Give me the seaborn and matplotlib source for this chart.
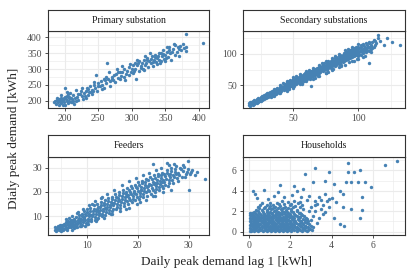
import matplotlib
matplotlib.use("Agg")
import matplotlib.pyplot as plt
import pandas as pd
import seaborn as sns

# panel names
panels = ["Primary substation", "Secondary substations", "Feeders", "Households"]

# points: (lag 1, demand)
primary_pts = [
    (186,198),(188,202),(190,195),(191,205),(193,200),(194,192),(195,208),(196,199),(198,203),(199,196),
    (200,188),(200,212),(201,240),(202,205),(203,198),(204,215),(205,193),(206,207),(207,200),(208,225),
    (209,210),(210,196),(211,204),(212,218),(213,200),(215,208),(216,235),(218,212),(220,202),(222,220),
    (224,230),(225,215),(227,205),(229,225),(231,232),(233,240),(234,218),(236,228),(238,245),(240,235),
    (241,222),(243,250),(245,240),(246,280),(248,232),(250,255),(252,245),(254,262),(256,250),(258,240),
    (260,265),(262,255),(263,318),(265,270),(267,262),(268,248),(270,275),(272,265),(274,280),(275,260),
    (277,285),(279,272),(280,292),(282,268),(284,278),(286,290),(288,275),(289,300),(291,285),(293,295),
    (295,280),(296,305),(298,290),(300,300),(301,312),(302,286),(304,320),(305,300),(306,270),(308,312),
    (310,295),(311,325),(313,308),(315,318),(316,300),(318,330),(320,312),(321,320),(323,335),(324,305),
    (326,325),(328,318),(330,340),(331,310),(333,328),(335,345),(336,322),(338,335),(340,330),(341,350),
    (343,325),(345,340),(346,360),(348,332),(350,345),(352,355),(354,338),(355,370),(357,350),(358,330),
    (360,355),(362,362),(364,345),(365,375),(367,355),(369,368),(370,340),(372,372),(374,360),(376,378),
    (378,365),(380,358),(381,370),(380,409),(406,383),(195,218),(197,185),(205,220),(214,190),(230,215),
    (244,260),(258,270),(266,290),(278,300),(290,265),(297,315),(307,330),(318,298),(327,350),(337,315),
    (344,352),(353,368),(363,380),(371,362),(232,210),(242,230),(255,238),(285,310),(303,293),(319,340),
    (334,338),(349,325),(184,195),(187,190),(189,210),(192,188),(203,228),(217,200),(226,240),(239,226),
    (309,318),(314,302),(322,328),(329,332),(332,322),(339,342),(342,318),(347,348),(351,336),(356,360),
    (194,203),(199,207),(207,212),(211,195),(219,222),(235,236),(249,245),(261,275),(271,268),(283,290),
]

secondary_pts = [
    (16,18),(16,21),(17,17),(17,20),(17,23),(18,19),(18,22),(19,18),(19,21),(19,24),(20,20),(20,23),(20,26),
    (21,22),(21,25),(22,21),(22,24),(22,27),(23,23),(23,26),(23,29),(24,25),(24,28),(25,24),(25,27),(25,30),
    (26,26),(26,29),(26,32),(27,28),(27,31),(28,27),(28,30),(28,34),(29,29),(29,32),(29,35),(30,31),(30,34),
    (31,30),(31,33),(31,37),(32,32),(32,36),(32,39),(33,34),(33,38),(34,33),(34,36),(34,40),(35,35),(35,39),
    (35,42),(36,37),(36,41),(37,36),(37,40),(37,44),(38,38),(38,42),(38,46),(39,40),(39,44),(40,39),(40,43),
    (40,47),(41,41),(41,45),(41,49),(42,43),(42,47),(43,42),(43,46),(43,51),(44,44),(44,48),(44,52),(45,46),
    (45,50),(45,55),(46,45),(46,49),(46,53),(47,47),(47,51),(47,56),(48,49),(48,53),(48,58),(49,48),(49,52),
    (49,57),(50,50),(50,55),(50,60),(52,51),(52,56),(52,61),(53,53),(53,58),(53,63),(55,54),(55,59),(55,64),
    (56,56),(56,61),(56,66),(58,57),(58,62),(58,67),(59,59),(59,64),(59,69),(61,60),(61,65),(61,70),(62,62),
    (62,67),(62,72),(64,48),(64,63),(64,68),(64,73),(65,65),(65,70),(65,75),(67,66),(67,71),(67,76),(68,68),
    (68,73),(68,78),(70,69),(70,74),(70,79),(71,71),(71,76),(71,81),(73,72),(73,77),(73,83),(74,74),(74,79),
    (74,85),(76,75),(76,80),(76,86),(77,77),(77,82),(77,88),(79,78),(79,84),(79,89),(80,80),(80,86),(80,91),
    (82,81),(82,87),(82,93),(83,83),(83,89),(83,95),(85,84),(85,90),(85,96),(86,86),(86,92),(86,98),(88,87),
    (88,93),(88,99),(89,89),(89,95),(89,101),(91,90),(91,96),(91,103),(92,92),(92,98),(92,104),(94,93),
    (94,100),(94,106),(95,95),(95,101),(95,108),(97,96),(97,103),(97,109),(98,98),(98,104),(98,111),
    (100,97),(100,104),(100,112),(102,99),(102,106),(102,114),(104,101),(104,108),(104,116),(106,103),
    (106,110),(106,118),(108,85),(108,105),(108,112),(108,120),(110,108),(110,115),(112,112),(112,122),
    (114,117),(115,126),(115.5,131),(117,121),(119.5,115),(122.5,126),(126,119),(132,114),
    (16.5,19.5),(18.5,20.5),(19.5,22.5),(20.5,21.5),(21.5,23.5),(22.5,25.5),(23.5,24.5),(24.5,26.5),
    (25.5,28.5),(26.5,27.5),(27.5,29.5),(28.5,32),(29.5,30.5),(30.5,32.5),(31.5,35),(32.5,34),(33.5,36.5),
    (34.5,38),(35.5,37),(36.5,39),(37.5,42),(38.5,40),(39.5,42.5),(40.5,45),(41.5,43.5),(42.5,45),
    (43.5,48.5),(44.5,46.5),(45.5,48),(46.5,51.5),(47.5,49),(48.5,51),(49.5,54.5),(50.5,52.5),(51,57.5),
    (51.5,54),(52.5,59),(53.5,55.5),(54,61),(54.5,57),(55.5,62),(56.5,58.5),(57,64),(57.5,60),(58.5,65),
    (59.5,61.5),(60,67),(60.5,63),(61.5,68),(62.5,64.5),(63,70),(63.5,66),(64.5,71),(65.5,67.5),(66,73),
    (66.5,69),(67.5,74),(68.5,70.5),(69,76),(69.5,72),(70.5,77),(71.5,73.5),(72,79),(72.5,75),(73.5,80),
    (74.5,76.5),(75,82),(75.5,78),(76.5,83),(77.5,79.5),(78,85),(78.5,81),(79.5,87),(80.5,83),(81,89),
    (81.5,84.5),(82.5,90),(83.5,86),(84,92),(84.5,87.5),(85.5,93),(86.5,89),(87,95),(87.5,90.5),(88.5,96),
    (89.5,92),(90,98),(90.5,93.5),(91.5,100),(92.5,95),(93,101),(93.5,96.5),(94.5,103),(95.5,98),(96,105),
    (96.5,99.5),(97.5,106),(98.5,101),(99,108),(99.5,102),(100.5,109),(101,100.5),(101.5,105),(102.5,111),
    (103,103),(103.5,106),(104.5,113),(105,104.5),(105.5,109),(106.5,115),(107,107),(107.5,111),
    (108.5,117),(109,110),(109.5,113),(111,119),(111,110),(113,114),(113,121),(110,103),(104,95),(99,92),
    (93,87),(87,83),(81,76),(75,70),(69,65),(63,59),(57,53),(51,48),(45,43),(39,37),(33,31),
    (30,37),(35,44),(40,50),(45,57),(50,63),(55,67),(60,72),(65,78),(70,83),(75,89),(80,94),(85,100),
    (90,106),(95,111),(100,116),(42,53),(52,64),(62,75),(72,86),(82,97),(92,108),
    (35,32),(40,37),(45,41),(50,46),(55,51),(60,56),(65,60),(70,65),(75,69),(80,74),(85,79),(90,83),
    (95,88),(100,92),(105,97),(47,43),(57,52),(67,62),(77,71),(87,80),(97,89),
]

feeders_pts = [
    (3.7,4.5),(3.8,5.5),(4,4),(4.2,5),(4.3,6),(4.5,4.5),(4.6,5.5),(4.8,6.5),(5,5),(5,4),(5.2,6),(5.4,7),
    (5.5,4.8),(5.7,5.8),(5.9,7.5),(6,5.2),(6.2,6.5),(6.3,8),(6.5,5.5),(6.6,7),(6.8,8.5),(7,6),(7,4.5),
    (7.2,7.5),(7.4,9),(7.5,6.2),(7.7,8),(7.9,9.8),(8,6.8),(8.1,5.5),(8.3,8.5),(8.5,10.5),(8.6,7.2),(8.8,9),
    (9,11),(9,6.5),(9.2,7.8),(9.4,9.8),(9.5,12),(9.7,8.4),(9.9,10.5),(10,13),(10,7),(10.3,9),(10.5,11),
    (10.6,13.5),(10.8,8),(11,10),(11.2,12),(11.3,14.5),(11.5,8.6),(11.7,10.8),(11.9,13),(12,15),(12.1,9.5),
    (12.4,11.5),(12.6,13.8),(12.7,16),(12.9,10),(13.1,12.2),(13.3,14.5),(13.5,16.5),(13.6,10.6),(13.8,13),
    (14,15.2),(14.2,17.5),(14.3,11.5),(14.5,13.8),(14.8,16),(15,18),(15,12),(15.2,14.5),(15.5,16.8),
    (15.6,19),(15.8,12.8),(16,15.2),(16.2,17.5),(16.4,20),(16.5,13.5),(16.7,16),(16.9,18.3),(17.1,20.8),
    (17.2,14.2),(17.4,16.8),(17.6,19),(17.8,21.5),(18,15),(18.2,17.5),(18.4,20),(18.6,22.5),(18.8,15.8),
    (19,18.2),(19.2,20.6),(19.4,23),(19.5,16.5),(19.7,19),(19.9,21.5),(20.1,24),(20.2,17),(20.4,19.6),
    (20.6,22),(20.8,24.6),(21,17.8),(21.2,20.4),(21.4,22.8),(21.6,25.2),(21.8,18.5),(22,21),(22.2,23.4),
    (22.4,26),(22.6,19.2),(22.8,21.8),(23,24),(23.2,26.8),(22.9,31.6),(23.4,20),(23.6,22.5),(23.8,25),
    (24,27.5),(24.2,20.8),(24.4,23.2),(24.6,25.6),(24.8,28),(25,21.5),(25.2,24),(25.4,26.4),(25.7,29),
    (25.7,31.9),(26,22.5),(26.2,25),(26.4,27.3),(26.6,30),(26.9,23.5),(27.1,26),(27.4,28.3),(27.6,30.5),
    (28,24.5),(28.2,27),(28.5,29.3),(28.9,31),(29.3,26),(29.6,28.2),(29.9,32.7),(30,20.7),(30.2,27.5),
    (30.6,29),(31.3,26.8),(31.6,28.2),(33.2,25.2),(6.4,9.2),(8.2,11.6),(11,15.2),(13,17.8),(9.6,5.8),
    (12,8.8),(14.8,10.8),(17.6,13.2),(20.4,15.8),(23,18.5),
    (4.1,4.8),(4.4,5.3),(4.7,4.2),(4.9,5.8),(5.1,6.6),(5.3,4.5),(5.6,6.4),(5.8,5.2),(6.1,7.2),(6.4,6),
    (6.7,7.8),(6.9,5.4),(7.1,6.8),(7.3,8.4),(7.6,7),(7.8,5.6),(8.2,7.6),(8.4,9.4),(8.7,8),(8.9,6),(9.1,10),
    (9.3,8.6),(9.6,10.8),(9.8,7.4),(10.1,11.8),(10.2,8.2),(10.4,10),(10.7,12.2),(10.9,9),(11.1,11),
    (11.4,13),(11.6,9.6),(11.8,12),(12.2,14),(12.3,10.6),(12.5,12.6),(12.8,14.8),(13,11),(13.2,13.2),
    (13.4,15.4),(13.7,11.8),(13.9,14),(14.1,16.2),(14.4,12.5),(14.6,14.8),(14.9,17),(15.1,13),(15.3,15.6),
    (15.7,17.8),(15.9,14),(16.1,16.2),(16.3,18.6),(16.6,14.6),(16.8,17),(17,19.4),(17.3,15.4),(17.5,17.8),
    (17.7,20.2),(17.9,16.2),(18.1,18.6),(18.3,21),(18.5,16.6),(18.7,19.2),(18.9,21.6),(19.1,17.2),
    (19.3,19.8),(19.6,22.2),(19.8,18),(20,20.6),(20.3,23),(20.5,18.4),(20.7,21),(20.9,23.6),(21.1,19.2),
    (21.3,21.6),(21.5,24.2),(21.7,19.8),(21.9,22.2),(22.1,24.8),(22.3,20.4),(22.5,22.8),(22.7,25.4),
    (22.9,20.8),(23.1,23.2),(23.3,25.8),(23.5,21.4),(23.7,23.8),(23.9,26.4),(24.1,22),(24.3,24.4),
    (24.5,26.8),(24.7,22.4),(24.9,25),(25.1,27.4),(25.3,23),(25.5,25.4),(25.8,28),(26.1,23.8),(26.3,26),
    (26.5,28.6),(26.8,24.8),(27,27),(27.3,29.4),(27.7,25.6),(27.9,28),(28.3,30),(28.6,26.2),(28.8,28.6),
    (29.1,30.4),(29.4,27.4),(29.8,29.6),(30.4,28.2),(27.2,31.6),(26.2,31.2),(24.6,29.8),(23.6,29),
    (22.2,28),(21,27),(19.6,25.8),(18.2,24.6),(16.8,23),(15.4,21),(14,19.2),(12.8,17.6),(11.6,16.2),
    (10.4,14.6),(9.2,12.8),(8,11.4),(7,10.2),(5.8,8.8),(26.5,21),(25,20),(23.4,18.4),(21.6,16.8),
    (19.8,15.2),(18.2,13.6),(16.6,12),(15,10.8),(13.4,9.4),(11.8,8),(10.2,6.8),(8.6,5.8),(7.4,5),(6,4.3),
    (5.2,5.3),(6.7,6.3),(8.1,7.3),(9.5,9.2),(10.8,10.6),(12.2,12.3),(13.6,13.6),(15,15.3),(16.4,16.6),
    (17.8,18.2),(19.2,19.4),(20.6,20.8),(22,22.4),(23.4,23.6),(24.8,24.2),(26.2,27),(27.6,27.3),
]

households_pts = [
    (0.02,0.1),(0.03,0.4),(0.05,0.7),(0.02,1.0),(0.04,1.3),(0.06,1.6),(0.03,1.85),(0.1,0.2),(0.12,0.55),
    (0.08,0.9),(0.1,1.2),(0.13,1.5),(0.15,1.8),(0.07,0.05),
    (0.25,0.05),(0.45,0.08),(0.65,0.03),(0.85,0.06),(1.05,0.04),(1.25,0.07),(1.45,0.03),(1.65,0.06),
    (1.85,0.05),(2.05,0.08),(2.3,0.04),(2.55,0.06),(2.8,0.05),
    (0.2,0.3),(0.35,0.35),(0.55,0.28),(0.75,0.32),(0.95,0.27),(1.15,0.33),(1.35,0.29),(1.55,0.31),
    (1.75,0.28),(1.95,0.34),(2.15,0.3),(2.4,0.27),(2.65,0.33),(2.95,0.25),
    (0.25,0.6),(0.45,0.63),(0.62,0.57),(0.8,0.62),(1.0,0.58),(1.2,0.64),(1.4,0.6),(1.6,0.56),(1.8,0.62),
    (2.0,0.59),(2.2,0.63),(2.45,0.57),(2.7,0.6),(3.0,0.55),
    (0.22,0.92),(0.4,0.88),(0.6,0.93),(0.78,0.87),(0.98,0.91),(1.18,0.86),(1.38,0.92),(1.58,0.89),
    (1.78,0.93),(1.98,0.88),(2.2,0.92),(2.45,0.87),(2.7,0.95),
    (0.28,1.2),(0.48,1.23),(0.68,1.18),(0.88,1.22),(1.08,1.17),(1.28,1.24),(1.48,1.19),(1.68,1.22),
    (1.88,1.18),(2.1,1.25),(2.35,1.2),(2.6,1.27),
    (0.25,1.5),(0.45,1.53),(0.65,1.47),(0.85,1.52),(1.05,1.48),(1.25,1.55),(1.45,1.5),(1.65,1.46),
    (1.85,1.53),(2.05,1.57),(2.3,1.5),(2.55,1.6),
    (0.3,1.8),(0.5,1.84),(0.7,1.78),(0.9,1.83),(1.1,1.79),(1.3,1.86),(1.5,1.8),(1.7,1.88),(1.9,1.82),
    (2.15,1.9),(2.4,1.85),
    (0.35,2.1),(0.6,2.15),(0.85,2.08),(1.05,2.18),(1.3,2.12),(1.55,2.2),(1.8,2.1),(2.05,2.22),(2.3,2.15),
    (2.6,2.25),
    (0.45,2.45),(0.75,2.4),(1.0,2.5),(1.25,2.42),(1.5,2.55),(1.75,2.45),(2.0,2.6),(2.25,2.5),(2.55,2.65),
    (0.6,2.8),(1.0,2.85),(1.35,2.78),(1.6,3.0),(1.9,2.9),(2.2,3.05),(2.45,2.95),(2.8,3.1),
    (0.4,3.3),(0.9,3.2),(1.2,3.5),(1.7,3.4),(2.1,3.6),(2.5,3.4),(2.9,3.5),(0.3,3.7),(1.4,3.9),(2.3,4.0),
    (3.0,1.1),(3.1,1.5),(3.2,2.0),(3.0,2.4),(3.3,2.7),(3.4,1.3),(3.5,2.2),(3.3,0.9),(3.6,2.6),(3.7,1.9),
    (3.8,3.0),(3.9,2.4),(4.0,3.3),(3.5,3.1),(3.2,3.0),
    (0.2,4.0),(0.7,4.1),(1.5,4.6),(2.7,5.6),(3.2,6.2),(3.9,5.8),(4.8,6.7),(5.4,6.0),(5.1,5.8),(4.8,5.8),
    (6.6,6.5),(7.2,6.9),(4.7,4.85),(4.96,4.85),(5.3,4.85),(5.65,4.9),(5.9,4.4),(5.5,3.4),(5.5,2.15),
    (5.4,1.3),(4.4,0.8),(4.6,0.6),(4.1,1.3),(3.6,1.76),(4.2,2.9),(4.55,2.4),(4.96,2.25),(3.1,4.85),
    (3.7,5.0),(4.1,4.7),(4.4,4.0),(4.55,3.7),(2.6,4.2),(2.2,4.5),(3.4,3.4),(3.2,2.6),(2.9,2.05),(2.7,0.6),
    (3.1,0.45),(2.8,1.2),(3.7,3.7),(3.9,3.2),
    (0.15,0.15),(0.35,0.17),(0.55,0.13),(0.75,0.16),(0.95,0.14),(1.15,0.18),(1.35,0.12),(1.55,0.16),
    (1.75,0.15),(1.95,0.18),(2.2,0.14),(2.45,0.17),(2.7,0.15),(3.05,0.2),
    (0.17,0.45),(0.32,0.48),(0.5,0.44),(0.7,0.47),(0.9,0.43),(1.1,0.48),(1.3,0.45),(1.5,0.42),(1.7,0.47),
    (1.9,0.44),(2.1,0.48),(2.3,0.43),(2.55,0.47),(2.85,0.42),
    (0.18,0.75),(0.35,0.78),(0.53,0.73),(0.72,0.77),(0.9,0.74),(1.1,0.78),(1.3,0.73),(1.5,0.76),(1.7,0.74),
    (1.9,0.78),(2.1,0.73),(2.35,0.77),(2.6,0.74),(2.9,0.8),
    (0.2,1.05),(0.38,1.08),(0.58,1.03),(0.78,1.07),(0.98,1.04),(1.18,1.08),(1.38,1.03),(1.58,1.07),
    (1.78,1.04),(2.0,1.08),(2.25,1.05),(2.5,1.08),(2.85,1.0),
    (0.2,1.35),(0.38,1.38),(0.58,1.33),(0.78,1.37),(0.98,1.34),(1.18,1.38),(1.38,1.33),(1.58,1.37),
    (1.78,1.34),(2.0,1.4),(2.2,1.36),(2.45,1.42),(2.75,1.38),
    (0.2,1.65),(0.38,1.68),(0.58,1.63),(0.78,1.67),(0.98,1.64),(1.18,1.68),(1.38,1.64),(1.58,1.7),
    (1.8,1.66),(2.0,1.72),(2.25,1.68),(2.5,1.75),
    (0.25,1.97),(0.45,1.98),(0.65,1.94),(0.85,1.97),(1.0,1.95),(1.2,1.99),(1.4,1.95),(1.6,2.02),
    (1.85,1.97),(2.05,2.05),(2.3,2.0),
    (0.5,2.28),(0.7,2.3),(0.95,2.27),(1.15,2.33),(1.4,2.3),(1.65,2.35),(1.9,2.32),(2.15,2.38),(2.45,2.4),
    (0.55,2.6),(0.85,2.65),(1.15,2.62),(1.45,2.7),(1.7,2.68),(2.05,2.75),(2.35,2.78),
    (0.28,0.22),(0.46,0.23),(0.64,0.21),(0.84,0.24),(1.04,0.22),(1.26,0.23),(1.46,0.21),(1.66,0.24),
    (1.86,0.22),(2.08,0.24),(2.34,0.22),(2.6,0.23),(2.88,0.12),
    (0.27,0.52),(0.43,0.54),(0.6,0.51),(0.8,0.53),(1.0,0.5),(1.2,0.54),(1.4,0.51),(1.6,0.53),(1.8,0.5),
    (2.02,0.54),(2.25,0.51),(2.5,0.53),(2.78,0.5),
    (0.28,0.83),(0.45,0.82),(0.65,0.84),(0.85,0.81),(1.05,0.83),(1.25,0.81),(1.45,0.84),(1.65,0.82),
    (1.85,0.84),(2.05,0.82),(2.28,0.84),(2.55,0.82),(2.8,0.86),
    (0.3,1.13),(0.5,1.12),(0.7,1.14),(0.9,1.12),(1.1,1.13),(1.3,1.11),(1.5,1.14),(1.7,1.12),(1.9,1.14),
    (2.15,1.12),(2.4,1.14),(2.7,1.15),
    (0.3,1.43),(0.5,1.42),(0.7,1.44),(0.9,1.42),(1.1,1.43),(1.3,1.42),(1.52,1.44),(1.72,1.42),(1.95,1.45),
    (2.15,1.44),(2.4,1.47),(2.65,1.5),
    (0.32,1.73),(0.52,1.72),(0.72,1.74),(0.92,1.72),(1.12,1.74),(1.32,1.73),(1.52,1.75),(1.74,1.74),
    (1.95,1.76),(2.2,1.78),(2.45,1.8),
]

all_pts = [primary_pts, secondary_pts, feeders_pts, households_pts]
df = pd.concat([pd.DataFrame(p, columns=["lag", "demand"]).assign(panel=n)
                for n, p in zip(panels, all_pts)], ignore_index=True)

# axis setup per panel: limits and major ticks
limits = {
    "Primary substation": ((175, 415), (177, 420), [200, 250, 300, 350, 400], [200, 250, 300, 350, 400]),
    "Secondary substations": ((11.5, 136), (13, 137), [50, 100], [50, 100]),
    "Feeders": ((2.35, 34), (2.3, 34.4), [10, 20, 30], [10, 20, 30]),
    "Households": ((-0.3, 7.57), (-0.32, 7.3), [0, 2, 4, 6], [0, 2, 4, 6]),
}
minors = {
    "Primary substation": ([225, 275, 325, 375], [225, 275, 325, 375]),
    "Secondary substations": ([25, 75, 125], [25, 75, 125]),
    "Feeders": ([5, 15, 25], [5, 15, 25]),
    "Households": ([1, 3, 5, 7], [1, 3, 5, 7]),
}

sns.set_theme(style="white")
plt.rcParams["font.family"] = ["Liberation Serif", "DejaVu Serif"]

W, H = 415, 277
fig = plt.figure(figsize=(W / 100, H / 100), dpi=100)

# pixel boxes: left, right, strip top, panel top, panel bottom
boxes = [(48, 209, 9.5, 31, 108), (243, 405, 9.5, 31, 108),
         (48, 209, 135, 157, 235), (243, 405, 135, 157, 235)]

grid_c = "#EBEBEB"
border_c = "#333333"

for name, (l, r, st, pt, pb) in zip(panels, boxes):
    ax = fig.add_axes([l / W, 1 - pb / H, (r - l) / W, (pb - pt) / H])
    sub = df[df.panel == name]
    sns.scatterplot(data=sub, x="lag", y="demand", ax=ax, color="steelblue",
                    s=6, linewidth=0, zorder=3)
    xl, yl, xt, yt = limits[name]
    ax.set_xlim(xl)
    ax.set_ylim(yl)
    ax.set_xticks(xt)
    ax.set_yticks(yt)
    ax.set_xticks(minors[name][0], minor=True)
    ax.set_yticks(minors[name][1], minor=True)
    ax.grid(True, which="major", color=grid_c, linewidth=0.8, zorder=0)
    ax.grid(True, which="minor", color=grid_c, linewidth=0.45, zorder=0)
    ax.set_axisbelow(True)
    ax.set_xlabel("")
    ax.set_ylabel("")
    ax.tick_params(axis="both", which="major", length=2.5, width=0.6, color=border_c,
                   labelsize=7, labelcolor="#4D4D4D", pad=2, bottom=True, left=True)
    ax.tick_params(axis="both", which="minor", length=0)
    for sp in ax.spines.values():
        sp.set_color(border_c)
        sp.set_linewidth(0.8)

    # facet strip
    sax = fig.add_axes([l / W, 1 - pt / H, (r - l) / W, (pt - st) / H])
    sax.set_facecolor("white")
    sax.set_xticks([])
    sax.set_yticks([])
    for sp in sax.spines.values():
        sp.set_color(border_c)
        sp.set_linewidth(0.8)
    sax.text(0.5, 0.5, name, ha="center", va="center", fontsize=7,
             color="#1A1A1A", transform=sax.transAxes)

fig.text(226 / W, 1 - 262 / H, "Daily peak demand lag 1 [kWh]", ha="center", va="center", fontsize=9.5)
fig.text(14 / W, 1 - 138 / H, "Dialy peak demand [kWh]", ha="center", va="center",
         rotation=90, fontsize=9.5)

fig.savefig("out.png", dpi=100)
